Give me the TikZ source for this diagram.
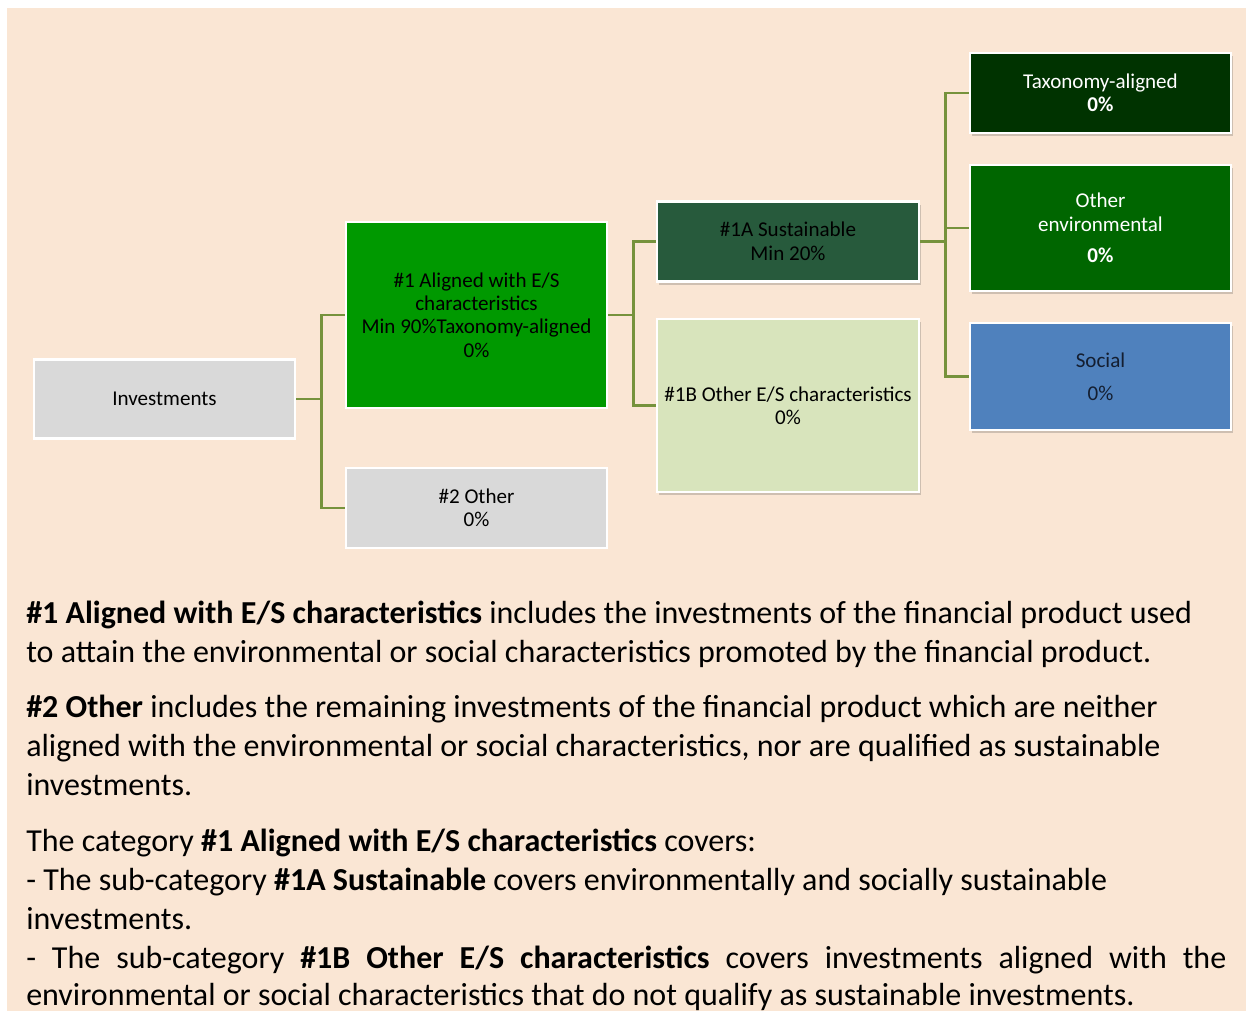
\documentclass[tikz,border=0pt]{standalone}
\usepackage{fontspec}
\setmainfont{Carlito}
\usetikzlibrary{shadows}
\definecolor{bg}{HTML}{FAE6D4}
\definecolor{greybox}{HTML}{D9D9D9}
\definecolor{green1}{HTML}{009900}
\definecolor{green1a}{HTML}{275A3C}
\definecolor{green1b}{HTML}{D8E4BC}
\definecolor{greentax}{HTML}{003300}
\definecolor{greenenv}{HTML}{006600}
\definecolor{socblue}{HTML}{4F81BD}
\definecolor{conncol}{HTML}{76923C}
\definecolor{socdark}{HTML}{141E30}
\tikzset{
  box/.style={draw=white, line width=2pt, align=center, inner sep=0pt,
    font=\fontsize{15.8}{17.6}\selectfont},
  sz/.style 2 args={minimum width=#1*0.75pt, minimum height=#2*0.75pt},
  shad/.style={drop shadow={shadow xshift=1.5pt, shadow yshift=-2.5pt, opacity=0.25, fill=black!70}},
  conn/.style={draw=conncol, line width=1.8pt},
  para/.style={anchor=base west, inner sep=0pt, font=\fontsize{24}{29.25}\selectfont}
}
\begin{document}
\begin{tikzpicture}[x=0.75pt,y=-0.75pt]
\useasboundingbox (0,0) rectangle (1250,1011);
\clip (0,0) rectangle (1250,1011);
\fill[bg] (7,8) rectangle (1246,1011);

% boxes
\node[box, sz={261}{79}, fill=greybox] (inv) at (164.5,399) {Investments};
\node[box, sz={261}{186}, fill=green1] (a1) at (476.5,315) {\#1 Aligned with E/S\\characteristics\\Min 90\%Taxonomy-aligned\\0\%};
\node[box, sz={261}{80}, fill=greybox] (o2) at (476.5,508) {\#2 Other\\0\%};
\node[box, shad, sz={262}{80}, fill=green1a] (s1a) at (788,241.5) {\#1A Sustainable\\Min 20\%};
\node[box, shad, sz={262}{173}, fill=green1b] (o1b) at (788,405.5) {\#1B Other E/S characteristics\\0\%};
\node[box, shad, sz={261}{80}, fill=greentax, text=white] (tax) at (1100.5,93) {Taxonomy-aligned\\\textbf{0\%}};
\node[box, shad, sz={261}{126}, fill=greenenv, text=white] (oenv) at (1100.5,228) {Other\\environmental\\[6pt]\textbf{0\%}};
\node[box, shad, sz={261}{107}, fill=socblue, text=socdark] (soc) at (1100.5,376.5) {Social\\[7pt]0\%};

% connectors
\draw[conn] (inv.east) -- ++(25,0) coordinate (j1) |- (a1.west);
\draw[conn] (j1) |- (o2.west);
\draw[conn] (a1.east) -- ++(25,0) coordinate (j2) |- (s1a.west);
\draw[conn] (j2) |- (o1b.west);
\draw[conn] (s1a.east) -- ++(25,0) coordinate (j3) |- (tax.west);
\draw[conn] (j3) |- (oenv.west);
\draw[conn] (j3) |- (soc.west);

% explanatory text
\node[para] (t1) at (26,623) {\textbf{\#1 Aligned with E/S characteristics} includes the investments of the financial product used};
\node[para] (t2) at (26,662) {to attain the environmental or social characteristics promoted by the financial product.};
\node[para] (t3) at (26,717) {\textbf{\#2 Other} includes the remaining investments of the financial product which are neither};
\node[para] (t4) at (26,756) {aligned with the environmental or social characteristics, nor are qualified as sustainable};
\node[para] (t5) at (26,795) {investments.};
\node[para] (t6) at (26,851) {The category \textbf{\#1 Aligned with E/S characteristics} covers:};
\node[para] (t7) at (26,890) {- The sub-category \textbf{\#1A Sustainable} covers environmentally and socially sustainable};
\node[para] (t8) at (26,929) {investments.};
\node[para] (t9) at (26,968) {\makebox[900pt][s]{- The sub-category \textbf{\#1B Other E/S characteristics} covers investments aligned with the}};
\node[para] (t10) at (26,1005) {environmental or social characteristics that do not qualify as sustainable investments.};
\end{tikzpicture}
\end{document}
